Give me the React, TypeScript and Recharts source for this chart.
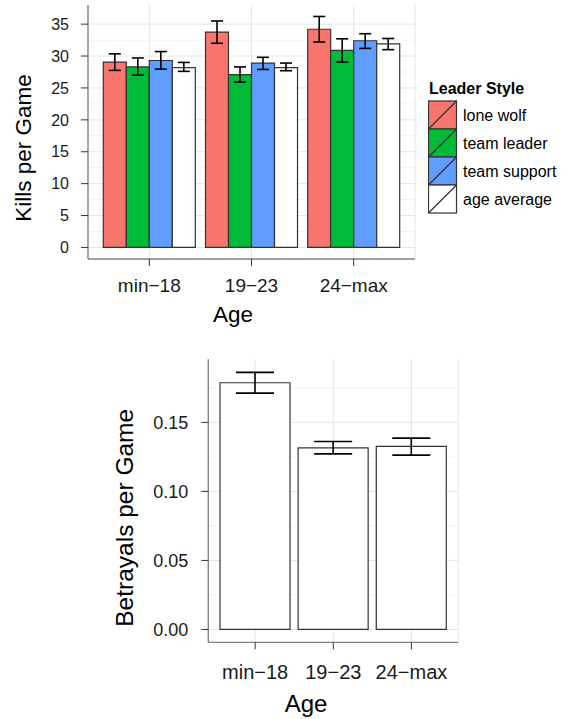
import { BarChart, Bar, XAxis, YAxis, CartesianGrid, ErrorBar, Legend } from "recharts";

const ageGroups = ["min−18", "19−23", "24−max"];

const styleNames = ["lone wolf", "team leader", "team support", "age average"];
const styleColors = ["#F8766D", "#00BA38", "#619CFF", "#FFFFFF"];

// kills per game, with the ends of each error bar
const loneWolf = [29.05, 33.75, 34.2];
const loneWolfLow = [27.75, 32.0, 32.2];
const loneWolfHigh = [30.35, 35.5, 36.2];
const teamLeader = [28.3, 27.1, 30.9];
const teamLeaderLow = [27.0, 25.9, 29.05];
const teamLeaderHigh = [29.7, 28.3, 32.7];
const teamSupport = [29.3, 28.9, 32.4];
const teamSupportLow = [27.95, 27.9, 31.2];
const teamSupportHigh = [30.7, 29.8, 33.5];
const ageAverage = [28.2, 28.2, 31.9];
const ageAverageLow = [27.6, 27.7, 31.0];
const ageAverageHigh = [29.0, 28.9, 32.75];

// betrayals per game
const betrayals = [0.1787, 0.1316, 0.1326];
const betrayalsLow = [0.1712, 0.1272, 0.1263];
const betrayalsHigh = [0.1862, 0.1362, 0.1386];

const killTicks = [0, 5, 10, 15, 20, 25, 30, 35];
const killMinor = [2.5, 7.5, 12.5, 17.5, 22.5, 27.5, 32.5];
const betrayalTicks = [0, 0.05, 0.1, 0.15];
const betrayalMinor = [0.025, 0.075, 0.125, 0.175];

const killSeries = [
  { key: "lw", values: loneWolf, low: loneWolfLow, high: loneWolfHigh },
  { key: "tl", values: teamLeader, low: teamLeaderLow, high: teamLeaderHigh },
  { key: "ts", values: teamSupport, low: teamSupportLow, high: teamSupportHigh },
  { key: "aa", values: ageAverage, low: ageAverageLow, high: ageAverageHigh },
];

const killData = ageGroups.map((age, i) => {
  const row: Record<string, any> = { age };
  killSeries.forEach((s) => {
    row[s.key] = s.values[i];
    row[s.key + "Err"] = [s.values[i] - s.low[i], s.high[i] - s.values[i]];
  });
  return row;
});

const betrayalData = ageGroups.map((age, i) => ({
  age,
  value: betrayals[i],
  err: [betrayals[i] - betrayalsLow[i], betrayalsHigh[i] - betrayals[i]],
}));

const FONT = "'Liberation Sans', Arial, Helvetica, sans-serif";
const BORDER = { stroke: "#7f7f7f", strokeWidth: 1.3 };
const TICKLINE = { stroke: "#333333", strokeWidth: 1 };
const TEXT = "#1a1a1a";

function yTitle(text: string, dx: number, dy: number, size: number) {
  return (props: any) => {
    const vb = props.viewBox;
    const x = vb.x + dx;
    const y = vb.y + vb.height / 2 + dy;
    return (
      <text x={x} y={y} transform={`rotate(-90, ${x}, ${y})`} textAnchor="middle" fontSize={size} fill="#000">
        {text}
      </text>
    );
  };
}

function xTitle(text: string, dx: number, dy: number, size: number) {
  return (props: any) => {
    const vb = props.viewBox;
    return (
      <text x={vb.x + dx} y={vb.y + dy} textAnchor="middle" fontSize={size} fill="#000">
        {text}
      </text>
    );
  };
}

function KillsLegend() {
  return (
    <svg width={140} height={140} style={{ display: "block", fontFamily: FONT }}>
      <text x={1} y={16} fontSize={16} fontWeight="bold" fill="#000">
        Leader Style
      </text>
      {styleNames.map((name, i) => {
        const top = 23 + i * 28;
        return (
          <g key={name}>
            <rect x={0.5} y={top} width={28} height={28} fill={styleColors[i]} stroke="#333" strokeWidth={1.2} />
            <line x1={0.5} y1={top + 28} x2={28.5} y2={top} stroke="#333" strokeWidth={1.2} />
            <text x={35} y={top + 19.7} fontSize={16} fill="#000">
              {name}
            </text>
          </g>
        );
      })}
    </svg>
  );
}

export default function App() {
  return (
    <div style={{ position: "absolute", left: 0, top: 0, width: 569, height: 719, background: "#fff", fontFamily: FONT }}>
      <div style={{ position: "absolute", left: 0, top: 0 }}>
        <BarChart
          width={569}
          height={330}
          data={killData}
          margin={{ top: 5, right: 154, bottom: 0, left: 0 }}
          barCategoryGap="5%"
          barGap={0}
        >
          <CartesianGrid stroke="#f3f3f3" vertical={false} horizontalValues={killMinor} />
          <CartesianGrid stroke="#e6e6e6" horizontalValues={killTicks} />
          <XAxis
            dataKey="age"
            height={71}
            padding={{ left: 10.2, right: 10.2 }}
            tickSize={7}
            tickMargin={13}
            tickLine={TICKLINE}
            axisLine={BORDER}
            tick={{ fontSize: 19, fill: TEXT }}
            label={{ content: xTitle("Age", 145, 63, 22.5) }}
          />
          <XAxis xAxisId="top" orientation="top" dataKey="age" height={0} tick={false} tickLine={false} axisLine={BORDER} />
          <YAxis
            type="number"
            width={88}
            domain={[-1.81, 38.0]}
            allowDataOverflow
            ticks={killTicks}
            interval={0}
            tickSize={7}
            tickMargin={12}
            tickLine={TICKLINE}
            axisLine={BORDER}
            tick={{ fontSize: 16, fill: TEXT }}
            label={{ content: yTitle("Kills per Game", 31, 16, 22.5) }}
          />
          <YAxis yAxisId="right" orientation="right" type="number" width={0} domain={[-1.81, 38.0]} allowDataOverflow tick={false} tickLine={false} axisLine={BORDER} />
          {killSeries.map((s, i) => (
            <Bar
              key={s.key}
              dataKey={s.key}
              name={styleNames[i]}
              fill={styleColors[i]}
              stroke="#333"
              strokeWidth={1.2}
              isAnimationActive={false}
            >
              <ErrorBar dataKey={s.key + "Err"} direction="y" width={6} stroke="#000" strokeWidth={1.6} isAnimationActive={false} />
            </Bar>
          ))}
          <Legend
            layout="vertical"
            align="center"
            verticalAlign="middle"
            wrapperStyle={{ left: 428, top: 78, width: 140 }}
            content={() => <KillsLegend />}
          />
        </BarChart>
      </div>

      <div style={{ position: "absolute", left: 0, top: 340 }}>
        <BarChart
          width={569}
          height={379}
          data={betrayalData}
          margin={{ top: 19.3, right: 110.7, bottom: 0, left: 0 }}
          barCategoryGap="5%"
        >
          <CartesianGrid stroke="#f3f3f3" vertical={false} horizontalValues={betrayalMinor} />
          <CartesianGrid stroke="#e6e6e6" horizontalValues={betrayalTicks} />
          <XAxis
            dataKey="age"
            height={76.7}
            padding={{ left: 7.8, right: 7.8 }}
            tickSize={7}
            tickMargin={15.5}
            tickLine={TICKLINE}
            axisLine={BORDER}
            tick={{ fontSize: 20, fill: TEXT }}
            label={{ content: xTitle("Age", 97.7, 69.7, 24) }}
          />
          <XAxis xAxisId="top" orientation="top" dataKey="age" height={0} tick={false} tickLine={false} axisLine={BORDER} />
          <YAxis
            type="number"
            width={208.3}
            domain={[-0.0093, 0.1957]}
            allowDataOverflow
            ticks={betrayalTicks}
            interval={0}
            tickFormatter={(v: number) => v.toFixed(2)}
            tickSize={7}
            tickMargin={13}
            tickLine={TICKLINE}
            axisLine={BORDER}
            tick={{ fontSize: 18, fill: TEXT }}
            label={{ content: yTitle("Betrayals per Game", 133, 17, 24.5) }}
          />
          <YAxis yAxisId="right" orientation="right" type="number" width={0} domain={[-0.0093, 0.1957]} allowDataOverflow tick={false} tickLine={false} axisLine={BORDER} />
          <Bar dataKey="value" fill="#ffffff" stroke="#333" strokeWidth={1.2} isAnimationActive={false}>
            <ErrorBar dataKey="err" direction="y" width={19} stroke="#000" strokeWidth={1.6} isAnimationActive={false} />
          </Bar>
        </BarChart>
      </div>
    </div>
  );
}
